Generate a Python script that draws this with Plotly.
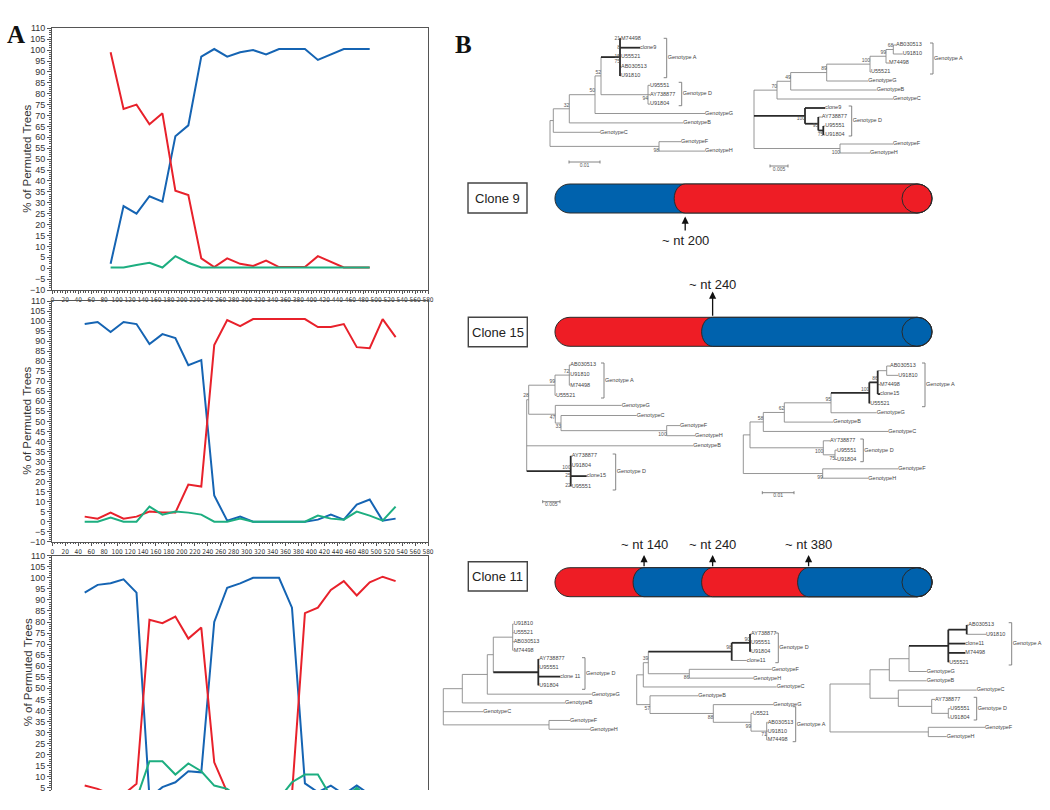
import plotly.graph_objects as go

W, H = 1050, 810

# ---------------- Panel A data (% of permuted trees) ----------------
POS_C9 = [90, 110, 130, 150, 170, 190, 210, 230, 250, 270, 290, 310, 330, 350, 370, 390, 410, 430, 450, 470, 490]
C9_BLUE = [2, 28.5, 25, 33, 30.5, 60.5, 65.5, 97, 100.5, 97, 99, 100, 98, 100.5, 100.5, 100.5, 95.5, 98, 100.5, 100.5, 100.5]
C9_RED = [99, 73, 75, 66, 71, 35.5, 33.5, 4.5, 0.5, 4.5, 2, 1, 3.5, 0.5, 0.5, 0.5, 5.5, 3, 0.3, 0.3, 0.3]
C9_GREEN = [0.3, 0.3, 1.5, 2.5, 0.3, 5.5, 2.5, 0.3, 0.3, 0.3, 0.3, 0.3, 0.3, 0.3, 0.3, 0.3, 0.3, 0.3, 0.3, 0.3, 0.3]

POS_C15 = [50, 70, 90, 110, 130, 150, 170, 190, 210, 230, 250, 270, 290, 310, 330, 350, 370, 390, 410, 430, 450, 470, 490, 510, 530]
C15_BLUE = [98.5, 99.5, 94.5, 99.5, 98.5, 88.5, 93.5, 91.5, 78, 80.5, 13, 0.5, 2.5, 0, 0, 0, 0, 0, 1, 3.5, 1, 8.5, 11, 0.5, 1.5]
C15_RED = [2.5, 1.5, 4.5, 1.5, 2.5, 5, 4.5, 4.5, 18.5, 17.5, 88, 100.5, 97.5, 101, 101, 101, 101, 101, 97, 97, 98.5, 87, 86.5, 101, 92]
C15_GREEN = [0, 0, 2, 0, 0, 7.5, 3.5, 5, 4.5, 3.5, 0, 0, 1.5, 0, 0, 0, 0, 0, 3, 1.5, 1, 5, 3, 0.5, 7.5]

POS_C11 = [50, 70, 90, 110, 130, 150, 170, 190, 210, 230, 250, 270, 290, 310, 330, 350, 370, 390, 410, 430, 450, 470, 490, 510, 530]
C11_BLUE = [93.3, 96.8, 97.5, 99.3, 93.3, 0.5, 5.3, 7.5, 12.5, 12, 80, 95.5, 97.5, 100, 100, 100, 86.5, 7, 3, 6, 2, 6, 2, 1, 1]
C11_RED = [6, 4.5, 2, 2, 6.8, 81, 79.5, 82.5, 72.5, 77.5, 16.5, 3, 1, 0, 0, 0, 2, 84, 86.5, 94.5, 98.5, 92, 98, 100.5, 98.5]
C11_GREEN = [0, 0, 0, 0, 0, 17, 17, 11, 16, 12.5, 6, 4.5, 0, 0, 0, 0, 7.5, 11, 11, 1, 0, 5, 0, 0, 0]

X_TICK_STEP = 20
Y_LABEL = "% of Permuted Trees"

# ---------------- Panel B data ----------------
CLONES = ["Clone 9", "Clone 15", "Clone 11"]
CLONE_PARENTS = [["blue", "red"], ["red", "blue"], ["red", "blue", "red", "blue"]]
BREAKPOINTS = [[200], [240], [140, 240, 380]]
SEQ_START, SEQ_END = 10, 560

RED = "#e8212b"
BLUE = "#1564b3"
GREEN = "#1dae80"
BAR_RED = "#ee1d25"
BAR_BLUE = "#0062ad"
COLMAP = {"red": BAR_RED, "blue": BAR_BLUE}

fig = go.Figure()

# ---------------- Panel A charts ----------------
charts = [
    (POS_C9, C9_BLUE, C9_RED, C9_GREEN),
    (POS_C15, C15_BLUE, C15_RED, C15_GREEN),
    (POS_C11, C11_BLUE, C11_RED, C11_GREEN),
]
dom_px = [(28.3, 290.0), (301.0, 541.7), (555.7, 790.0)]
yranges = [[-10, 110], [-10, 110], [4, 110]]
X_L, X_R = 52.3, 428.0
AXC = "#555555"
TICKC = "#333333"
tickfam = "Liberation Sans Narrow, DejaVu Sans Condensed, Arial Narrow, Liberation Sans, sans-serif"

for i, (xs, b, r, g) in enumerate(charts):
    sfx = "" if i == 0 else str(i + 1)
    for vals, col in ((b, BLUE), (r, RED), (g, GREEN)):
        fig.add_trace(go.Scatter(x=xs, y=vals, mode="lines", line=dict(color=col, width=2),
                                 xaxis="x" + sfx, yaxis="y" + sfx, showlegend=False, hoverinfo="skip"))
    top, bot = dom_px[i]
    ydom = [1 - bot / H, 1 - top / H]
    if i < 2:
        xax = dict(domain=[X_L / W, X_R / W], range=[0, 580], anchor="y" + sfx,
                   tickmode="linear", tick0=0, dtick=X_TICK_STEP, ticks="outside", ticklen=3,
                   tickcolor=AXC, tickwidth=1, tickangle=0,
                   tickfont=dict(size=6.5, color=TICKC, family=tickfam),
                   showline=True, linecolor=AXC, linewidth=1.3, mirror=True,
                   showgrid=False, zeroline=False,
                   minor=dict(dtick=4, ticks="outside", ticklen=1.6, tickcolor=AXC, showgrid=False))
    else:
        xax = dict(domain=[X_L / W, X_R / W], range=[0, 580], anchor="y" + sfx, side="top",
                   showticklabels=False, ticks="", showline=True, linecolor=AXC, linewidth=1.3,
                   showgrid=False, zeroline=False)
    yax = dict(domain=ydom, range=yranges[i], anchor="x" + sfx,
               tickmode="linear", tick0=0, dtick=5, ticks="outside", ticklen=4,
               tickcolor=AXC, tickwidth=1,
               tickfont=dict(size=9, color=TICKC, family="Liberation Sans, Arial, sans-serif"),
               showline=True, linecolor=AXC, linewidth=1.3, mirror=True,
               showgrid=False, zeroline=False,
               minor=dict(dtick=1, ticks="outside", ticklen=2, tickcolor=AXC, showgrid=False))
    fig.layout["xaxis" + sfx] = xax
    fig.layout["yaxis" + sfx] = yax
    fig.add_annotation(x=27.5 / W, y=1 - (top + bot) / 2 / H, xref="paper", yref="paper",
                       xanchor="center", yanchor="middle",
                       text=Y_LABEL, textangle=-90, showarrow=False,
                       font=dict(size=11.5, color="#333", family="Liberation Sans, Arial, sans-serif"))

# ---------------- Panel B: pixel overlay axes ----------------
fig.layout["xaxis4"] = dict(domain=[440 / W, 1], range=[440, 1050], visible=False, anchor="y4", fixedrange=True)
fig.layout["yaxis4"] = dict(domain=[0, 1], range=[810, 0], visible=False, anchor="x4", fixedrange=True)
NT0_PX, NT600_PX = 548.1, 959.4
KPX = (NT600_PX - NT0_PX) / 600.0
fig.layout["xaxis5"] = dict(domain=[NT0_PX / W, NT600_PX / W], range=[0, 600], visible=False,
                            anchor="y4", fixedrange=True)

# ---- trees ----
def L(name, ln, thick=False, b=None):
    return {"name": name, "l": ln, "thick": thick, "b": b}


def N(ln, b, kids, thick=False):
    return {"l": ln, "b": b, "kids": kids, "thick": thick}


TREES = [
    # clone 9 left
    (550, 38.3, 9.4, N(0, None, [
        N(3.3, None, [
            N(16, "32", [
                N(25.7, "50", [
                    N(6, "52", [
                        N(19, ("75", 5), [L("M74498", 1, b="21"), L("clone9", 20, True, b="8"),
                                          L("U55521", 1, b="15"), L("AB030513", 1), L("U91810", 1)], thick=True),
                        N(47, ("94", 4), [L("U95551", 2), L("AY738877", 2), L("U91804", 2)]),
                    ]),
                    L("GenotypeG", 110),
                ]),
                L("GenotypeB", 114),
            ]),
            L("GenotypeC", 46.7),
        ]),
        N(109, ("98", 4), [L("GenotypeF", 22), L("GenotypeH", 46)]),
    ])),
    # clone 9 right
    (754, 45, 9.0, N(0, None, [
        N(23, "70", [
            N(13.7, "49", [
                N(36, "89", [
                    N(43.3, "100", [
                        N(16, "99", [
                            N(7.3, "68", [L("AB030513", 2.7), L("U91810", 9.4)]),
                            L("M74498", 3),
                        ]),
                        L("U55521", 1),
                    ]),
                    L("GenotypeG", 41.6),
                ]),
                L("GenotypeB", 86),
            ]),
            L("GenotypeC", 116),
        ]),
        N(51, ("100", 3), [
            L("clone9", 20, True),
            N(13.3, ("93", 2), [L("AY738877", 3.4),
                                N(5, ("75", 4), [L("U95551", 2), L("U91804", 2)], thick=True)], thick=True),
        ], thick=True),
        N(86, ("100", 4), [L("GenotypeF", 53), L("GenotypeH", 30)]),
    ])),
    # clone 15 left
    (526.7, 365, 10.1, N(0, None, [
        N(2, "28", [
            N(26.3, "99", [
                N(14.3, "72", [L("AB030513", 1), L("U91810", 1), L("M74498", 1)]),
                L("U55521", 1),
            ]),
            N(26.6, ("47", 4), [
                L("GenotypeG", 66.4),
                N(5.7, ("33", 4), [
                    L("GenotypeC", 75.7),
                    N(105.7, ("100", 4), [L("GenotypeF", 13.3), L("GenotypeH", 28.3)]),
                ]),
            ]),
        ]),
        L("GenotypeB", 166.6),
        N(44, "100", [L("AY738877", 1), L("U91804", 1), L("clone15", 16, True, b="25"),
                      L("U95551", 1, b="22")], thick=True),
    ])),
    # clone 15 right
    (743.3, 366, 9.35, N(0, None, [
        N(6.7, None, [
            N(13.3, "58", [
                N(21, "62", [
                    N(46.7, "95", [
                        N(38.3, "100", [
                            N(8.4, "86", [
                                N(9, None, [L("AB030513", 3.3), L("U91810", 11.6)]),
                                L("M74498", 2.3),
                                L("clone15", 2.3, True),
                            ], thick=True),
                            L("U55521", 1),
                        ], thick=True),
                        L("GenotypeG", 45.7),
                    ]),
                    L("GenotypeB", 49),
                ]),
                L("GenotypeC", 125),
            ]),
            N(73.3, ("100", 4), [L("AY738877", 6.7), N(11.7, ("75", 4), [L("U95551", 2), L("U91804", 2)])]),
        ]),
        N(79.4, ("99", 4), [L("GenotypeF", 75.6), L("GenotypeH", 45.6)]),
    ])),
    # clone 11 left
    (443.3, 624, 8.77, N(0, None, [
        N(19, None, [
            N(25, None, [
                N(6, None, [
                    N(19.4, None, [L("U91810", 1), L("U55521", 1), L("AB030513", 1), L("M74498", 1)]),
                    N(45, None, [L("AY738877", 1), L("U95551", 1), L("clone 11", 21.7, True),
                                 L("U91804", 1)], thick=True),
                ]),
                L("GenotypeG", 104.4),
            ]),
            L("GenotypeB", 102.7),
        ]),
        L("GenotypeC", 40),
        N(105.7, None, [L("GenotypeF", 21), L("GenotypeH", 41)]),
    ])),
    # clone 11 middle
    (636.7, 634, 8.83, N(0, None, [
        N(6.6, None, [
            N(5, "39", [
                N(83.4, "98", [
                    N(18.3, "90", [L("AY738877", 1), L("U95551", 1), L("U91804", 1)], thick=True),
                    L("clone11", 15),
                ], thick=True),
                N(41, ("86", 4), [L("GenotypeF", 82.4), L("GenotypeH", 64)]),
            ]),
            L("GenotypeC", 133.4),
        ]),
        N(13.3, ("57", 4), [
            L("GenotypeB", 48.3),
            N(63.3, ("88", 4), [
                L("GenotypeG", 60),
                N(37.7, ("99", 4), [L("U5521", 1.7),
                                    N(15.7, ("71", 4), [L("AB030513", 1), L("U91810", 1), L("M74498", 1)])]),
            ]),
        ]),
    ])),
    # clone 11 right
    (830, 625, 9.3, N(0, None, [
        N(40, None, [
            N(19.3, None, [
                N(19.7, None, [
                    N(39.3, None, [
                        N(18.4, None, [L("AB030513", 1.6), L("U91810", 19.3)], thick=True),
                        L("clone11", 17, True),
                        L("M74498", 17, True),
                        L("U55521", 1),
                    ], thick=True),
                    L("GenotypeG", 17.7),
                ]),
                L("GenotypeB", 37.4),
            ]),
            N(28.3, None, [
                L("GenotypeC", 78.4),
                N(33.4, None, [L("AY738877", 3.3), N(16.6, None, [L("U95551", 2), L("U91804", 2)])]),
            ]),
        ]),
        N(98.3, None, [L("GenotypeF", 56.7), L("GenotypeH", 18.4)]),
    ])),
]

BRACKETS = [
    (666.7, 38.3, 77.7, "Genotype A"), (681.7, 82.3, 105.7, "Genotype D"),
    (933, 43, 74, "Genotype A"), (851.7, 106, 136, "Genotype D"),
    (604, 363, 398, "Genotype A"), (615.7, 454, 490, "Genotype D"),
    (925, 363, 406.7, "Genotype A"), (863.3, 439, 461.7, "Genotype D"),
    (585, 657.7, 689.3, "Genotype D"),
    (778.3, 633, 662.7, "Genotype D"), (795.7, 706.7, 741.7, "Genotype A"),
    (1011.7, 622.7, 665, "Genotype A"), (976.7, 697.3, 720, "Genotype D"),
]
SCALEBARS = [(569, 600, 162, "0.01"), (770, 788, 166, "0.005"),
             (542.7, 560, 501.7, "0.005"), (762.3, 794, 492.7, "0.01")]

out = {"thin": [], "thick": [], "leaf": [], "boot": []}


def layout_tree(tree, x0, y0, dy):
    cnt = [0]

    def rec(node, px):
        x = px + node["l"]
        seg = out["thick"] if node["thick"] else out["thin"]
        if "kids" not in node:
            y = y0 + cnt[0] * dy
            cnt[0] += 1
            if node["l"] > 0:
                seg.append(((px, y), (x, y)))
            out["leaf"].append((x, y, node["name"]))
            if node["b"]:
                out["boot"].append((px, y, node["b"]))
            return y
        ys = [rec(k, x) for k in node["kids"]]
        y = (ys[0] + ys[-1]) / 2
        seg.append(((x, ys[0]), (x, ys[-1])))
        if node["l"] > 0:
            seg.append(((px, y), (x, y)))
        if node["b"]:
            if isinstance(node["b"], tuple):
                txt, off = node["b"]
            else:
                txt, off = node["b"], -3.5
            out["boot"].append((x, y + off, txt))
        return y

    rec(tree, x0)


for x0, y0, dy, t in TREES:
    layout_tree(t, x0, y0, dy)


def segs_to_xy(segs):
    xs, ys = [], []
    for a, b in segs:
        xs += [a[0], b[0], None]
        ys += [a[1], b[1], None]
    return xs, ys


brk = []
for x, ya, yb, lab in BRACKETS:
    brk += [((x - 3, ya), (x, ya)), ((x, ya), (x, yb)), ((x, yb), (x - 3, yb))]
for xa, xb, y, lab in SCALEBARS:
    brk += [((xa, y), (xb, y)), ((xa, y - 1.5), (xa, y + 1.5)), ((xb, y - 1.5), (xb, y + 1.5))]

for segs, col, wd in ((out["thin"], "#8a8a8a", 0.9), (brk, "#777777", 0.9), (out["thick"], "#2a2a2a", 1.8)):
    xs, ys = segs_to_xy(segs)
    fig.add_trace(go.Scatter(x=xs, y=ys, mode="lines", line=dict(color=col, width=wd),
                             xaxis="x4", yaxis="y4", showlegend=False, hoverinfo="skip"))

tfont = "Liberation Sans, Arial, sans-serif"
fig.add_trace(go.Scatter(x=[p[0] for p in out["leaf"]], y=[p[1] for p in out["leaf"]],
                         text=[p[2] for p in out["leaf"]], mode="text", textposition="middle right",
                         textfont=dict(size=5.5, color="#444", family=tfont),
                         xaxis="x4", yaxis="y4", showlegend=False, hoverinfo="skip"))
fig.add_trace(go.Scatter(x=[p[0] for p in out["boot"]], y=[p[1] for p in out["boot"]],
                         text=[p[2] for p in out["boot"]], mode="text", textposition="middle left",
                         textfont=dict(size=5, color="#555", family=tfont),
                         xaxis="x4", yaxis="y4", showlegend=False, hoverinfo="skip"))
fig.add_trace(go.Scatter(x=[b[0] + 1 for b in BRACKETS], y=[(b[1] + b[2]) / 2 for b in BRACKETS],
                         text=[b[3] for b in BRACKETS], mode="text", textposition="middle right",
                         textfont=dict(size=5.5, color="#444", family=tfont),
                         xaxis="x4", yaxis="y4", showlegend=False, hoverinfo="skip"))
fig.add_trace(go.Scatter(x=[(s[0] + s[1]) / 2 for s in SCALEBARS], y=[s[2] + 1 for s in SCALEBARS],
                         text=[s[3] for s in SCALEBARS], mode="text", textposition="bottom center",
                         textfont=dict(size=5, color="#555", family=tfont),
                         xaxis="x4", yaxis="y4", showlegend=False, hoverinfo="skip"))

# ---- clone bars ----
BAR_TOP = [184, 317.3, 567.7]
BAR_H = 29
BOX = [(468, 183, 527, 213), (468.3, 317.3, 527.3, 346.7), (468.3, 561.7, 527.3, 591)]
ARROW_TIP = [216.5, 291.5, 555]
ARROW_TAIL = [232, 317.3, 567.7]
ARROW_LABEL_Y = [240, 284, 544]
RX_END = 15 / KPX
RX_IN = 11 / KPX
K = 0.5523


def seg_path(a, rxa, e, rxe, top, bot):
    mid = (top + bot) / 2
    ry = (bot - top) / 2
    f = lambda v: f"{v:.3f}"
    p = f"M {f(a)},{f(top)} L {f(e)},{f(top)} "
    p += f"C {f(e + K * rxe)},{f(top)} {f(e + rxe)},{f(mid - K * ry)} {f(e + rxe)},{f(mid)} "
    p += f"C {f(e + rxe)},{f(mid + K * ry)} {f(e + K * rxe)},{f(bot)} {f(e)},{f(bot)} "
    p += f"L {f(a)},{f(bot)} "
    p += f"C {f(a - K * rxa)},{f(bot)} {f(a - rxa)},{f(mid + K * ry)} {f(a - rxa)},{f(mid)} "
    p += f"C {f(a - rxa)},{f(mid - K * ry)} {f(a - K * rxa)},{f(top)} {f(a)},{f(top)} Z"
    return p


fig.add_trace(go.Scatter(x=[SEQ_START, SEQ_END], y=[BAR_TOP[0], BAR_TOP[0]], mode="markers",
                         marker=dict(opacity=0), xaxis="x5", yaxis="y4", showlegend=False, hoverinfo="skip"))

for i, name in enumerate(CLONES):
    top = BAR_TOP[i]
    bot = top + BAR_H
    e = SEQ_END - RX_END
    starts = [SEQ_START + RX_END] + BREAKPOINTS[i]
    rxs = [RX_END] + [RX_IN] * len(BREAKPOINTS[i])
    for a, rx, cname in zip(starts, rxs, CLONE_PARENTS[i]):
        fig.add_shape(type="path", path=seg_path(a, rx, e, RX_END, top, bot), xref="x5", yref="y4",
                      fillcolor=COLMAP[cname], line=dict(color="#2a2a2a", width=1))
    fig.add_shape(type="circle", x0=e - RX_END, x1=SEQ_END, y0=top, y1=bot, xref="x5", yref="y4",
                  line=dict(color="#2a2a2a", width=1))
    bx0, by0, bx1, by1 = BOX[i]
    fig.add_shape(type="rect", x0=bx0, x1=bx1, y0=by0, y1=by1, xref="x4", yref="y4",
                  line=dict(color="#444", width=1.4), fillcolor="white")
    fig.add_annotation(x=(bx0 + bx1) / 2, y=(by0 + by1) / 2, xref="x4", yref="y4", text=name,
                       xanchor="center", yanchor="middle",
                       showarrow=False, font=dict(size=13, color="#222", family=tfont))
    for bp in BREAKPOINTS[i]:
        fig.add_annotation(x=bp, y=ARROW_TIP[i], ax=bp, ay=ARROW_TAIL[i], xref="x5", yref="y4",
                           axref="x5", ayref="y4", text="", showarrow=True, arrowhead=2,
                           arrowsize=1.1, arrowwidth=1.3, arrowcolor="#111")
        fig.add_annotation(x=bp, y=ARROW_LABEL_Y[i], xref="x5", yref="y4", text=f"~ nt {bp}",
                           xanchor="center", yanchor="middle",
                           showarrow=False, font=dict(size=13, color="#222", family=tfont))

# ---- panel letters ----
fig.add_annotation(x=16 / W, y=1 - 35 / H, xref="paper", yref="paper", text="<b>A</b>", showarrow=False,
                   xanchor="center", yanchor="middle",
                   font=dict(size=25, color="#111", family="Liberation Serif, Times New Roman, serif"))
fig.add_annotation(x=463 / W, y=1 - 44 / H, xref="paper", yref="paper", text="<b>B</b>", showarrow=False,
                   xanchor="center", yanchor="middle",
                   font=dict(size=25, color="#111", family="Liberation Serif, Times New Roman, serif"))

fig.update_layout(width=W, height=H, autosize=False, template="none",
                  margin=dict(l=0, r=0, t=0, b=0),
                  paper_bgcolor="white", plot_bgcolor="rgba(0,0,0,0)",
                  showlegend=False, font=dict(family=tfont, color="#333"))

fig.write_html("out.html", config={"displayModeBar": False},
               post_script="document.body.style.margin='0px';document.body.style.overflow='hidden';")
